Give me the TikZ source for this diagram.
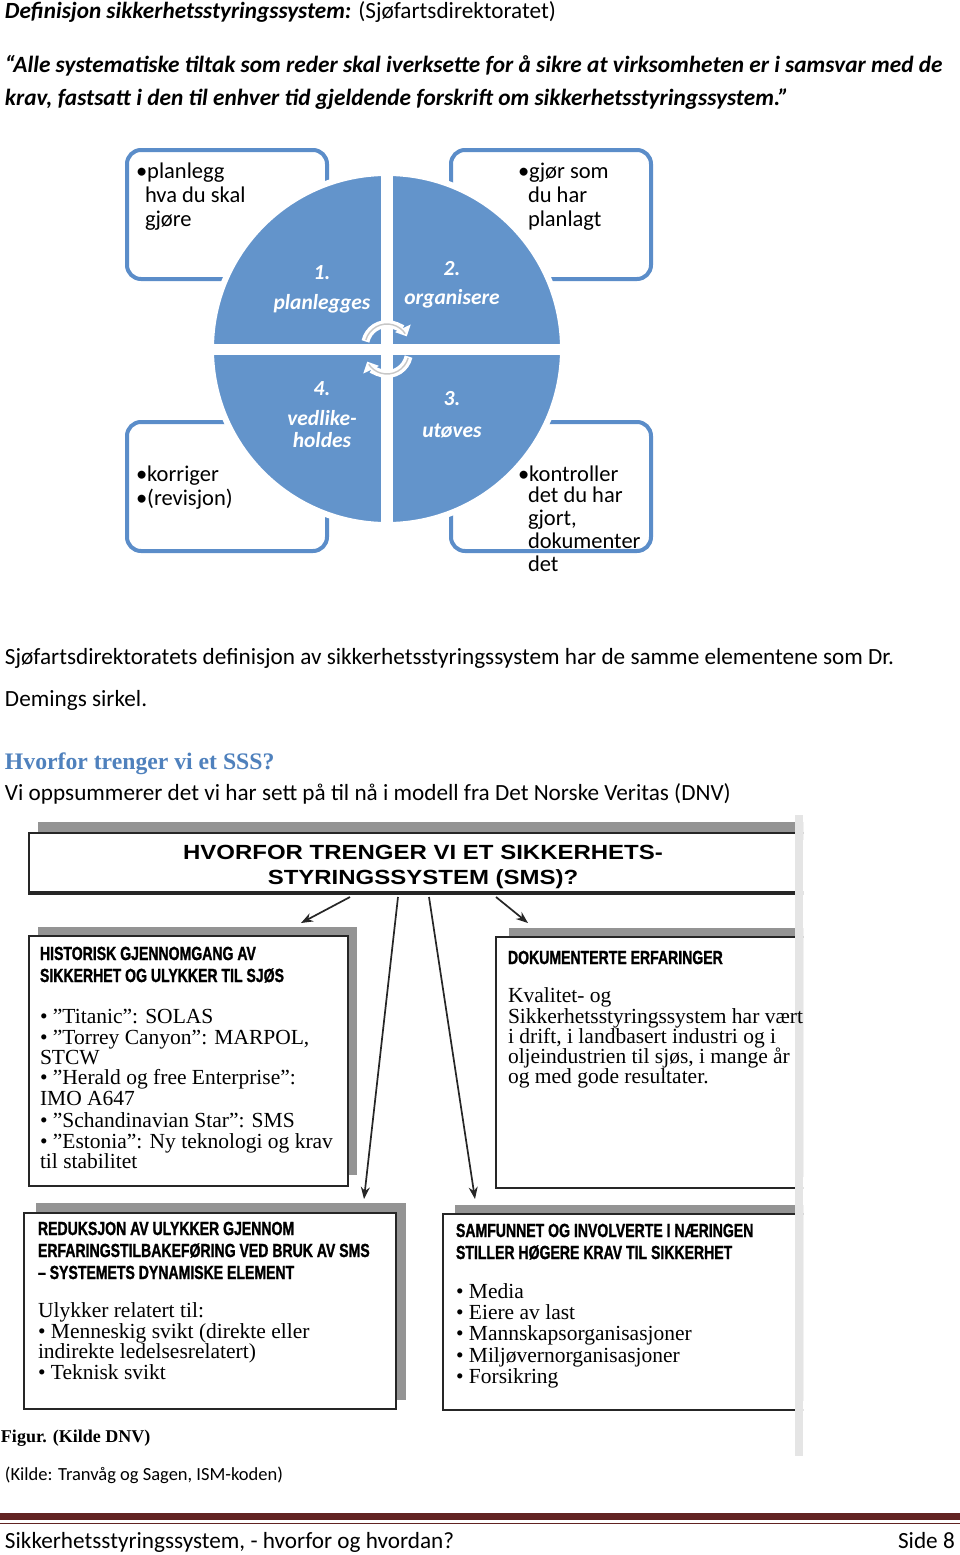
\documentclass[tikz,border=0pt]{standalone}
\usepackage{fontspec}
\setmainfont{Carlito}
\newfontfamily\timesf{Liberation Serif}
\newfontfamily\arialw{Liberation Sans}[FakeStretch=1.17]
\newfontfamily\condf{Liberation Sans}[FakeStretch=0.74,FakeBold=1.2]
\usetikzlibrary{arrows.meta,patterns,calc}
\definecolor{circ}{HTML}{6394CB}
\definecolor{boxb}{HTML}{5B8DC9}
\definecolor{headblue}{HTML}{4F81BD}
\definecolor{footred}{HTML}{622423}
\begin{document}
\begin{tikzpicture}[x=1pt,y=-1pt,
 t/.style={anchor=base west,inner sep=0pt,outer sep=0pt},
 tc/.style={anchor=base,inner sep=0pt,outer sep=0pt},
 body/.style={t,font=\fontsize{23.2}{28}\selectfont},
 boxtxt/.style={t,font=\fontsize{22.5}{24}\selectfont},
 quad/.style={tc,text=white,font=\fontsize{21.5}{24}\selectfont\bfseries\itshape},
 cbox/.style={draw=boxb,line width=4pt,rounded corners=14pt,fill=white,minimum width=200pt,minimum height=129pt,anchor=north west,inner sep=0pt},
 tm/.style={t,font=\timesf\fontsize{21.5}{22}\selectfont},
 ch/.style={t,font=\condf\bfseries\fontsize{19}{22}\selectfont},
 ah/.style={tc,font=\arialw\bfseries\fontsize{20.5}{22}\selectfont},
 dbox/.style={draw=black!85,line width=1.6pt,fill=white,anchor=north west,inner sep=0pt},
 arr/.style={draw=black!85,line width=1.7pt,-{Stealth[length=12pt,width=9pt]}},
 hatch/.style={fill=black!42},
 rot/.style={line width=8pt,white,-{Triangle[length=9pt,width=17pt]}},
 rotin/.style={line width=1.4pt,black!22},
]
\useasboundingbox (0,0) rectangle (960,1555);
\fill[white] (0,0) rectangle (960,1555);

% heading text
\node[body] (h1) at (5,19) {\textbf{\textit{Definisjon sikkerhetsstyringssystem:}} (Sjøfartsdirektoratet)};
\node[body,font=\fontsize{23.3}{28}\selectfont\bfseries\itshape] (q1) at (5,73) {“Alle systematiske tiltak som reder skal iverksette for å sikre at virksomheten er i samsvar med de};
\node[body,font=\fontsize{23.3}{28}\selectfont\bfseries\itshape] (q2) at (5,105) {krav, fastsatt i den til enhver tid gjeldende forskrift om sikkerhetsstyringssystem.”};

% cycle boxes
\node[cbox] (b1) at (125,148) {};
\node[cbox] (b2) at (449,148) {};
\node[cbox] (b4) at (125,420) {};
\node[cbox] (b3) at (449,420) {};

\node[circle,fill=circ,draw=white,line width=6pt,minimum size=352pt,inner sep=0pt] (cyc) at (387,349) {};
\fill[white] (381,168) rectangle (393,530);
\fill[white] (205,344) rectangle (570,355);

% rotating arrows
\draw[rot] (387,346) ++(192:22) arc[start angle=192,end angle=334,radius=22];
\draw[rotin] (387,346) ++(196:22) arc[start angle=196,end angle=326,radius=22];
\draw[rot] (387,352) ++(12:22) arc[start angle=12,end angle=154,radius=22];
\draw[rotin] (387,352) ++(16:22) arc[start angle=16,end angle=146,radius=22];

% quadrant labels
\node[quad] (n1) at (322,279) {1.};
\node[quad] (n1b) at (322,309) {planlegges};
\node[quad] (n2) at (452,275) {2.};
\node[quad] (n2b) at (452,304) {organisere};
\node[quad] (n4) at (322,395) {4.};
\node[quad] (n4b) at (322,425) {vedlike-};
\node[quad] (n4c) at (322,447) {holdes};
\node[quad] (n3) at (452,405) {3.};
\node[quad] (n3b) at (452,437) {utøves};

% box texts
\node[boxtxt] (p1) at (136,178) {•planlegg};
\node[boxtxt] (p2) at (145,202) {hva du skal};
\node[boxtxt] (p3) at (145,226) {gjøre};
\node[boxtxt] (g1) at (518,178) {•gjør som};
\node[boxtxt] (g2) at (528,202) {du har};
\node[boxtxt] (g3) at (528,226) {planlagt};
\node[boxtxt] (k1) at (136,481) {•korriger};
\node[boxtxt] (k2) at (136,505) {•(revisjon)};
\node[boxtxt] (c1) at (518,481) {•kontroller};
\node[boxtxt] (c2) at (528,502) {det du har};
\node[boxtxt] (c3) at (528,525) {gjort,};
\node[boxtxt] (c4) at (528,548) {dokumenter};
\node[boxtxt] (c5) at (528,571) {det};

% body text
\node[body] (s1) at (5,664) {Sjøfartsdirektoratets definisjon av sikkerhetsstyringssystem har de samme elementene som Dr.};
\node[body] (s2) at (5,706) {Demings sirkel.};
\node[t,text=headblue,font=\timesf\bfseries\fontsize{23.7}{28}\selectfont] (hv) at (5,769) {Hvorfor trenger vi et SSS?};
\node[body] (s3) at (5,800) {Vi oppsummerer det vi har sett på til nå i modell fra Det Norske Veritas (DNV)};

% DNV figure
\begin{scope}
\clip (0,815) rectangle (803,1456);
% title
\fill[hatch] (38,822) rectangle (820,840);
\node[dbox,minimum width=792pt,minimum height=61pt] (ttl) at (28,832) {};
\draw[black!85,line width=2.6pt] (28,892) -- (820,892);
\node[ah] (tt1) at (423,859) {HVORFOR TRENGER VI ET SIKKERHETS-};
\node[ah] (tt2) at (423,884) {STYRINGSSYSTEM (SMS)?};
% boxes
\fill[hatch] (38,927) rectangle (357,1175);
\node[dbox,minimum width=319pt,minimum height=250pt] (hist) at (28,935) {};
\fill[hatch] (509,928) rectangle (830,1177);
\node[dbox,minimum width=330pt,minimum height=251pt] (dok) at (495,936) {};
\fill[hatch] (36,1203) rectangle (406,1400);
\node[dbox,minimum width=372pt,minimum height=196pt] (red) at (23,1212) {};
\fill[hatch] (455,1205) rectangle (830,1401);
\node[dbox,minimum width=380pt,minimum height=196pt] (sam) at (442,1213) {};
\fill[black!10] (795,815) rectangle (803,1456);
% arrows
\coordinate (a1s) at (350,897); \coordinate (a1e) at (301,923);
\coordinate (a2s) at (398,897); \coordinate (a2e) at (364,1199);
\coordinate (a3s) at (429,897); \coordinate (a3e) at (475,1199);
\coordinate (a4s) at (496,897); \coordinate (a4e) at (528,923);
\draw[arr] (a1s) -- (a1e);
\draw[arr] (a2s) -- (a2e);
\draw[arr] (a3s) -- (a3e);
\draw[arr] (a4s) -- (a4e);
% hist text
\node[ch] (hh1) at (40,960) {HISTORISK GJENNOMGANG AV};
\node[ch] (hh2) at (40,982) {SIKKERHET OG ULYKKER TIL SJØS};
\node[tm] (ht1) at (40,1023) {• ”Titanic”: SOLAS};
\node[tm] (ht2) at (40,1044) {• ”Torrey Canyon”: MARPOL,};
\node[tm] (ht3) at (40,1064) {STCW};
\node[tm] (ht4) at (40,1084) {• ”Herald og free Enterprise”:};
\node[tm] (ht5) at (40,1105) {IMO A647};
\node[tm] (ht6) at (40,1127) {• ”Schandinavian Star”: SMS};
\node[tm] (ht7) at (40,1148) {• ”Estonia”: Ny teknologi og krav};
\node[tm] (ht8) at (40,1168) {til stabilitet};
% dok text
\node[ch] (dh1) at (508,964) {DOKUMENTERTE ERFARINGER};
\node[tm] (dt1) at (508,1002) {Kvalitet- og};
\node[tm] (dt2) at (508,1023) {Sikkerhetsstyringssystem har vært};
\node[tm] (dt3) at (508,1043) {i drift, i landbasert industri og i};
\node[tm] (dt4) at (508,1063) {oljeindustrien til sjøs, i mange år};
\node[tm] (dt5) at (508,1083) {og med gode resultater.};
% red text
\node[ch] (rh1) at (38,1235) {REDUKSJON AV ULYKKER GJENNOM};
\node[ch] (rh2) at (38,1257) {ERFARINGSTILBAKEFØRING VED BRUK AV SMS};
\node[ch] (rh3) at (38,1279) {– SYSTEMETS DYNAMISKE ELEMENT};
\node[tm] (rt1) at (38,1317) {Ulykker relatert til:};
\node[tm] (rt2) at (38,1338) {• Menneskig svikt (direkte eller};
\node[tm] (rt3) at (38,1358) {indirekte ledelsesrelatert)};
\node[tm] (rt4) at (38,1379) {• Teknisk svikt};
% sam text
\node[ch] (sh1) at (456,1237) {SAMFUNNET OG INVOLVERTE I NÆRINGEN};
\node[ch] (sh2) at (456,1259) {STILLER HØGERE KRAV TIL SIKKERHET};
\node[tm] (st1) at (456,1298) {• Media};
\node[tm] (st2) at (456,1319) {• Eiere av last};
\node[tm] (st3) at (456,1340) {• Mannskapsorganisasjoner};
\node[tm] (st4) at (456,1362) {• Miljøvernorganisasjoner};
\node[tm] (st5) at (456,1383) {• Forsikring};
\node[t,font=\timesf\bfseries\fontsize{18}{20}\selectfont] (fig) at (1,1442) {Figur. (Kilde DNV)};
\end{scope}

\node[t,font=\fontsize{18.5}{22}\selectfont] (kil) at (5,1480) {(Kilde: Tranvåg og Sagen, ISM-koden)};

% footer
\fill[footred] (0,1513) rectangle (960,1520);
\draw[footred,line width=1.2pt] (0,1523.5) -- (960,1523.5);
\node[body] (ft) at (5,1548) {Sikkerhetsstyringssystem, - hvorfor og hvordan?};
\node[anchor=base east,inner sep=0pt,font=\fontsize{23.2}{28}\selectfont] (pg) at (955,1548) {Side 8};
\end{tikzpicture}
\end{document}
